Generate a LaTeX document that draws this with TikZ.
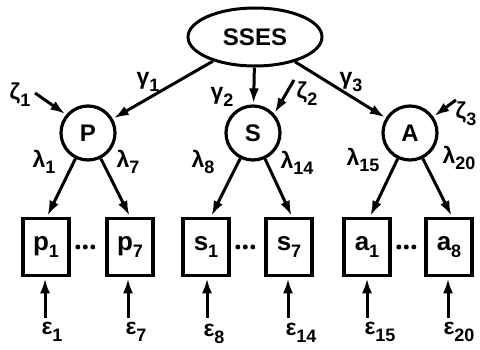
\documentclass[tikz,border=0pt]{standalone}
\usepackage{fontspec}
\setmainfont{Liberation Sans}
\usetikzlibrary{arrows.meta,shapes.geometric}
\newcommand{\lsub}[1]{\raisebox{-0.55ex}{\fontsize{18}{18}\selectfont #1}}
\begin{document}
\begin{tikzpicture}[x=1pt,y=-1pt,
  every node/.style={font=\bfseries\fontsize{23}{23}\selectfont, inner sep=0pt},
  arr/.style={line width=3pt, -{Latex[length=15pt,width=10pt]}, shorten >=1pt},
  lat/.style={draw, circle, line width=3.2pt, minimum size=54pt, font=\bfseries\fontsize{24}{24}\selectfont},
  obs/.style={draw, rectangle, line width=3.6pt, minimum width=46pt, minimum height=57pt, font=\bfseries\fontsize{26}{26}\selectfont},
  dotline/.style={line width=5pt, line cap=round, dash pattern=on 0pt off 7.5pt, shorten <=7pt, shorten >=5pt}]
\useasboundingbox (0,0) rectangle (480,350);
% latent variables
\node[draw, ellipse, line width=3pt, minimum width=134pt, minimum height=58pt, font=\bfseries\fontsize{24}{24}\selectfont] (sses) at (255,37) {SSES};
\node[lat] (P) at (88,133) {P};
\node[lat] (S) at (253,133) {S};
\node[lat] (A) at (410,133) {A};
% observed
\node[obs] (p1) at (46,247) {p\lsub{1}};
\node[obs] (p7) at (130,247) {p\lsub{7}};
\node[obs] (s1) at (206,247) {s\lsub{1}};
\node[obs] (s7) at (289,247) {s\lsub{7}};
\node[obs] (a1) at (367,247) {a\lsub{1}};
\node[obs] (a8) at (449,247) {a\lsub{8}};
% structural paths
\draw[arr] (sses) -- (P);
\draw[arr] (sses) -- (S);
\draw[arr] (sses) -- (A);
\node (g1) at (148,82) {γ\lsub{1}};
\node (g2) at (222,97) {γ\lsub{2}};
\node (g3) at (351,82) {γ\lsub{3}};
% disturbances
\coordinate (z1s) at (35,93);
\coordinate (z2s) at (294,80);
\coordinate (z3s) at (456,100);
\draw[arr] (z1s) -- (P.140);
\draw[arr] (z2s) -- (S.42);
\draw[arr] (z3s) -- (A.35);
\node (z1) at (20,95) {ζ\lsub{1}};
\node (z2) at (307,94) {ζ\lsub{2}};
\node (z3) at (466,114) {ζ\lsub{3}};
% loadings
\draw[arr] (P) -- ([xshift=1pt]p1.north);
\draw[arr] (P) -- (p7.north);
\draw[arr] (S) -- ([xshift=5pt]s1.north);
\draw[arr] (S) -- ([xshift=3pt]s7.north);
\draw[arr] (A) -- ([xshift=3pt]a1.north);
\draw[arr] (A) -- ([xshift=3pt]a8.north);
\node (l1) at (44,162) {λ\lsub{1}};
\node (l7) at (128,162) {λ\lsub{7}};
\node (l8) at (203,162) {λ\lsub{8}};
\node (l14) at (297,163) {λ\lsub{14}};
\node (l15) at (363,160) {λ\lsub{15}};
\node (l20) at (459,158) {λ\lsub{20}};
% dotted links
\draw[dotline] (p1.east) -- (p7.west);
\draw[dotline] (s1.east) -- (s7.west);
\draw[dotline] (a1.east) -- (a8.west);
% errors
\coordinate (e1s) at (45,318);
\coordinate (e7s) at (128,318);
\coordinate (e8s) at (207,318);
\coordinate (e14s) at (288,318);
\coordinate (e15s) at (367,318);
\coordinate (e20s) at (448,318);
\draw[arr] (e1s) -- ([xshift=-1pt]p1.south);
\draw[arr] (e7s) -- ([xshift=-2pt]p7.south);
\draw[arr] (e8s) -- ([xshift=1pt]s1.south);
\draw[arr] (e14s) -- ([xshift=-1pt]s7.south);
\draw[arr] (e15s) -- (a1.south);
\draw[arr] (e20s) -- ([xshift=-1pt]a8.south);
\node (e1) at (52,332) {ε\lsub{1}};
\node (e7) at (136,332) {ε\lsub{7}};
\node (e8) at (214,334) {ε\lsub{8}};
\node (e14) at (301,333) {ε\lsub{14}};
\node (e15) at (380,332) {ε\lsub{15}};
\node (e20) at (459,332) {ε\lsub{20}};
\end{tikzpicture}
\end{document}
